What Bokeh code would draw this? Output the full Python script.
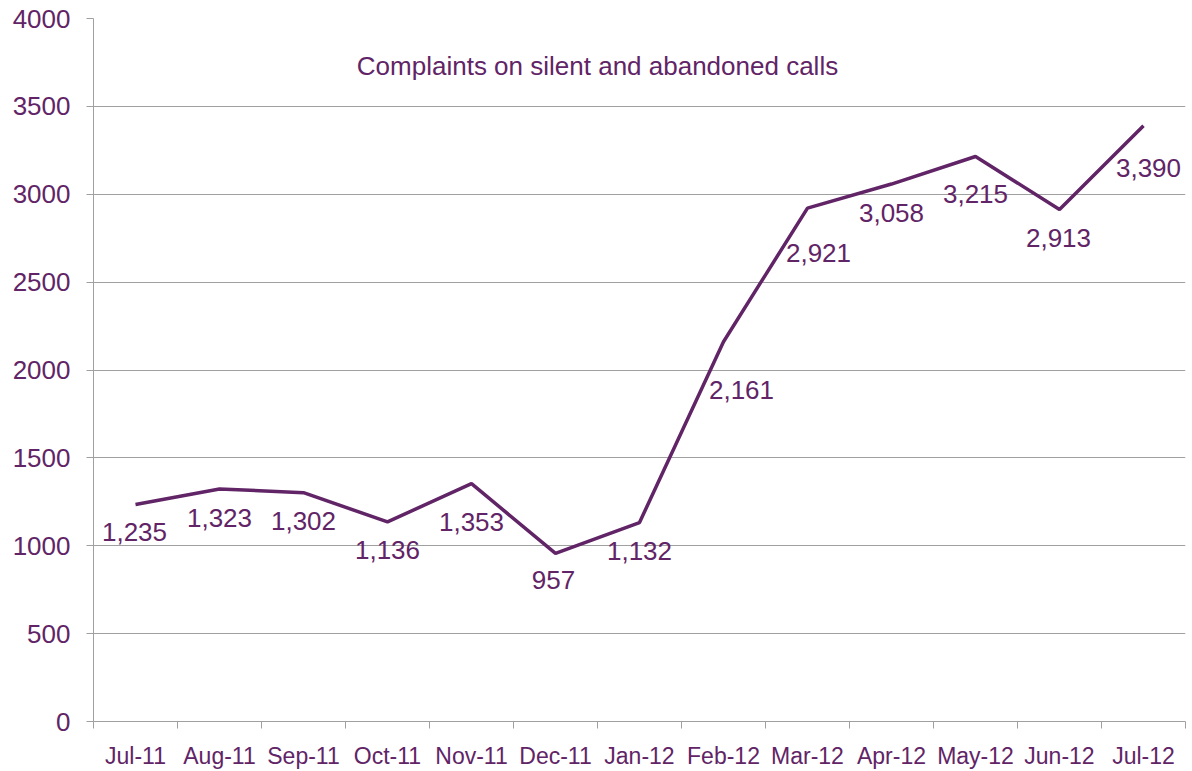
import numpy as np
from bokeh.plotting import figure
from bokeh.models import ColumnDataSource, FixedTicker, Range1d, Label
from bokeh.core.properties import value
from bokeh.embed import file_html
from bokeh.resources import INLINE

months = ["Jul-11", "Aug-11", "Sep-11", "Oct-11", "Nov-11", "Dec-11", "Jan-12",
          "Feb-12", "Mar-12", "Apr-12", "May-12", "Jun-12", "Jul-12"]
complaints = [1235, 1323, 1302, 1136, 1353, 957, 1132, 2161, 2921, 3058, 3215, 2913, 3390]
y_ticks = list(range(0, 4001, 500))
title_text = "Complaints on silent and abandoned calls"

# data-label placement (screen pixel offsets from each point), kept apart from the data
label_dx = [-1, 0, 0, 0, 0, -2, 0, 18, 11, 0, 0, -1, 5]
label_dy = [-28, -29, -28, -28, -38, -27, -28, -48, -45, -29, -38, -28, -42]

PURPLE = "#612466"
GRID = "#a0a0a0"
FONT = "Liberation Sans"

n = len(months)
xs = np.arange(n) + 0.5
src = ColumnDataSource(dict(
    x=xs, y=complaints,
    lbl=[f"{v:,}" for v in complaints],
    dx=label_dx, dy=[-d for d in label_dy],
))

p = figure(width=1192, height=771, output_backend="svg", toolbar_location=None,
           x_range=Range1d(0, n), y_range=Range1d(0, 4000),
           min_border_left=93, min_border_right=7, min_border_top=18, min_border_bottom=48)
p.outline_line_color = None
p.background_fill_color = "white"
p.border_fill_color = "white"

p.line("x", "y", source=src, line_color=PURPLE, line_width=3.5)
p.text("x", "y", text="lbl", source=src, text_color=PURPLE, text_font=value(FONT),
       text_font_size="26px", text_align="center", text_baseline="middle",
       x_offset="dx", y_offset="dy")

p.add_layout(Label(x=6.0, y=3730, text=title_text, text_color=PURPLE, text_font=FONT,
                   text_font_size="26px", text_align="center", text_baseline="middle"))

# x axis
xa = p.xaxis[0]
xa.ticker = FixedTicker(ticks=list(xs), minor_ticks=list(range(n + 1)))
xa.major_label_overrides = {float(x): m for x, m in zip(xs, months)}
xa.major_tick_out = 0
xa.major_tick_in = 0
xa.minor_tick_out = 7
xa.minor_tick_in = 0
xa.minor_tick_line_color = GRID
xa.axis_line_color = GRID
xa.major_label_text_color = PURPLE
xa.major_label_text_font = FONT
xa.major_label_text_font_size = "23px"
xa.major_label_standoff = 14

# y axis
ya = p.yaxis[0]
ya.ticker = FixedTicker(ticks=y_ticks)
ya.major_tick_out = 7
ya.major_tick_in = 0
ya.minor_tick_line_color = None
ya.major_tick_line_color = GRID
ya.axis_line_color = GRID
ya.major_label_text_color = PURPLE
ya.major_label_text_font = FONT
ya.major_label_text_font_size = "26px"
ya.major_label_standoff = 16

p.xgrid.grid_line_color = None
p.ygrid.grid_line_color = GRID
p.ygrid.grid_line_width = 1

open("out.html", "w").write(file_html(p, INLINE))
